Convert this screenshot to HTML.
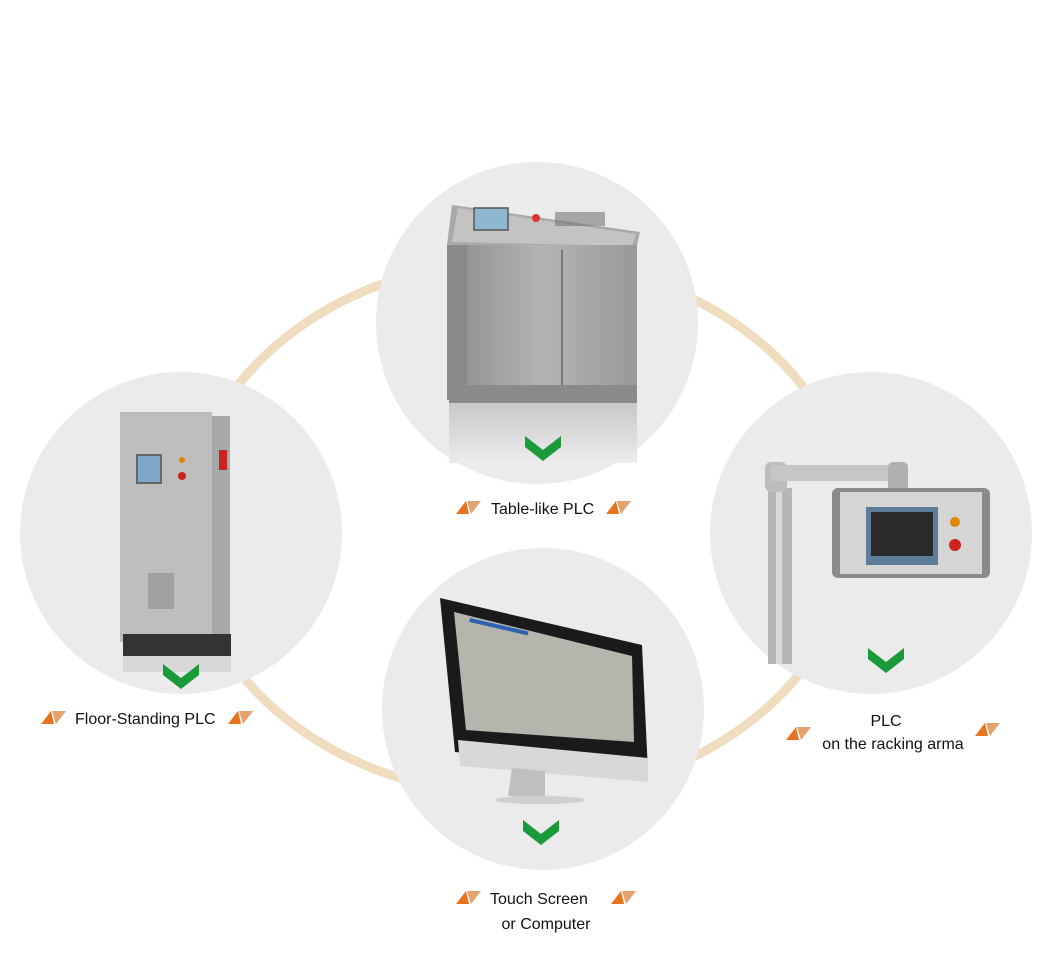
<!DOCTYPE html>
<html><head><meta charset="utf-8"><style>
html,body{margin:0;padding:0;background:#fff;}
svg{display:block;}
text{font-family:"Liberation Sans","DejaVu Sans",sans-serif;fill:#111;font-size:16px;}
</style></head><body>
<svg width="1060" height="972" viewBox="0 0 1060 972" xmlns="http://www.w3.org/2000/svg">
<defs>
<g id="tri"><polygon points="0,13 10,0 13,13" fill="#e8731e"/><polygon points="11,0 25,0 15,13" fill="#e4a26f"/></g>
<g id="chev"><polygon points="-18,-12 0,2 18,-12 18,-1 0,13 -18,-1" fill="#1a9a3a"/></g>
<linearGradient id="steel" x1="0" x2="1"><stop offset="0" stop-color="#8d8d8d"/><stop offset=".5" stop-color="#b4b4b4"/><stop offset="1" stop-color="#999"/></linearGradient>
<linearGradient id="refl" x1="0" y1="0" x2="0" y2="1"><stop offset="0" stop-color="#c8c8c8"/><stop offset="1" stop-color="#ececec"/></linearGradient>
</defs>
<ellipse cx="520" cy="528" rx="333" ry="268" fill="none" stroke="#f0dcbf" stroke-width="9"/>
<circle cx="537" cy="323" r="161" fill="#ebebeb"/>
<circle cx="181" cy="533" r="161" fill="#ebebeb"/>
<circle cx="871" cy="533" r="161" fill="#ebebeb"/>
<circle cx="543" cy="709" r="161" fill="#ebebeb"/>

<!-- table PLC -->
<polygon points="452,205 640,232 636,250 447,245" fill="#a9a9a9"/>
<polygon points="458,208 636,234 632,246 452,242" fill="#c3c3c3"/>
<rect x="474" y="208" width="34" height="22" fill="#8fb7d0" stroke="#555" stroke-width="1.5"/>
<circle cx="536" cy="218" r="4" fill="#d33"/>
<rect x="555" y="212" width="50" height="14" fill="#777" opacity=".6"/>
<rect x="447" y="245" width="190" height="155" fill="url(#steel)"/>
<rect x="447" y="245" width="20" height="155" fill="#8a8a8a"/>
<line x1="562" y1="250" x2="562" y2="390" stroke="#777" stroke-width="2"/>
<rect x="449" y="385" width="188" height="18" fill="#8a8a8a"/>
<rect x="449" y="403" width="188" height="60" fill="url(#refl)"/>
<use href="#chev" x="543" y="448"/>

<!-- floor PLC -->
<rect x="120" y="412" width="92" height="230" fill="#bdbdbd"/>
<rect x="212" y="416" width="18" height="226" fill="#a8a8a8"/>
<rect x="137" y="455" width="24" height="28" fill="#7fa8c8" stroke="#666" stroke-width="2"/>
<circle cx="182" cy="460" r="3" fill="#d80"/>
<circle cx="182" cy="476" r="4" fill="#c22"/>
<rect x="219" y="450" width="8" height="20" fill="#c22"/>
<rect x="148" y="573" width="26" height="36" fill="#a0a0a0"/>
<rect x="123" y="634" width="108" height="22" fill="#333"/>
<rect x="123" y="656" width="108" height="16" fill="#d8d8d8"/>
<use href="#chev" x="181" y="676"/>

<!-- arm PLC -->
<rect x="768" y="488" width="24" height="176" fill="#b5b5b5"/>
<rect x="776" y="488" width="6" height="176" fill="#d8d8d8"/>
<rect x="765" y="462" width="22" height="30" rx="6" fill="#bdbdbd"/>
<rect x="770" y="465" width="138" height="16" fill="#c6c6c6"/>
<rect x="888" y="462" width="20" height="32" rx="5" fill="#b0b0b0"/>
<rect x="832" y="488" width="158" height="90" rx="6" fill="#8a8a8a"/>
<rect x="840" y="492" width="142" height="82" fill="#d5d5d5"/>
<rect x="866" y="507" width="72" height="58" fill="#5e7c98"/>
<rect x="871" y="512" width="62" height="44" fill="#2a2a2a"/>
<circle cx="955" cy="522" r="5" fill="#d80"/>
<circle cx="955" cy="545" r="6" fill="#c22"/>
<use href="#chev" x="886" y="660"/>

<!-- monitor -->
<polygon points="440,598 642,645 648,772 455,752" fill="#1a1a1a"/>
<polygon points="454,612 632,656 634,742 466,730" fill="#b5b5ae"/>
<rect x="470" y="618" width="60" height="4" fill="#3060b0" transform="rotate(13 470 618)"/>
<polygon points="458,740 648,758 648,782 460,766" fill="#d8d8d8"/>
<polygon points="512,768 545,771 545,798 508,796" fill="#c0c0c0"/>
<ellipse cx="540" cy="800" rx="45" ry="4" fill="#cfcfcf"/>
<use href="#chev" x="541" y="832"/>

<!-- labels -->
<use href="#tri" x="456" y="501"/>
<text x="491" y="514">Table-like PLC</text>
<use href="#tri" x="606" y="501"/>

<use href="#tri" x="41" y="711"/>
<text x="75" y="724">Floor-Standing PLC</text>
<use href="#tri" x="228" y="711"/>

<text x="886" y="726" text-anchor="middle">PLC</text>
<text x="893" y="749" text-anchor="middle">on the racking arma</text>
<use href="#tri" x="786" y="727"/>
<use href="#tri" x="975" y="723"/>

<use href="#tri" x="456" y="891"/>
<text x="490" y="904">Touch Screen</text>
<use href="#tri" x="611" y="891"/>
<text x="546" y="929" text-anchor="middle">or Computer</text>
</svg>
</body></html>
